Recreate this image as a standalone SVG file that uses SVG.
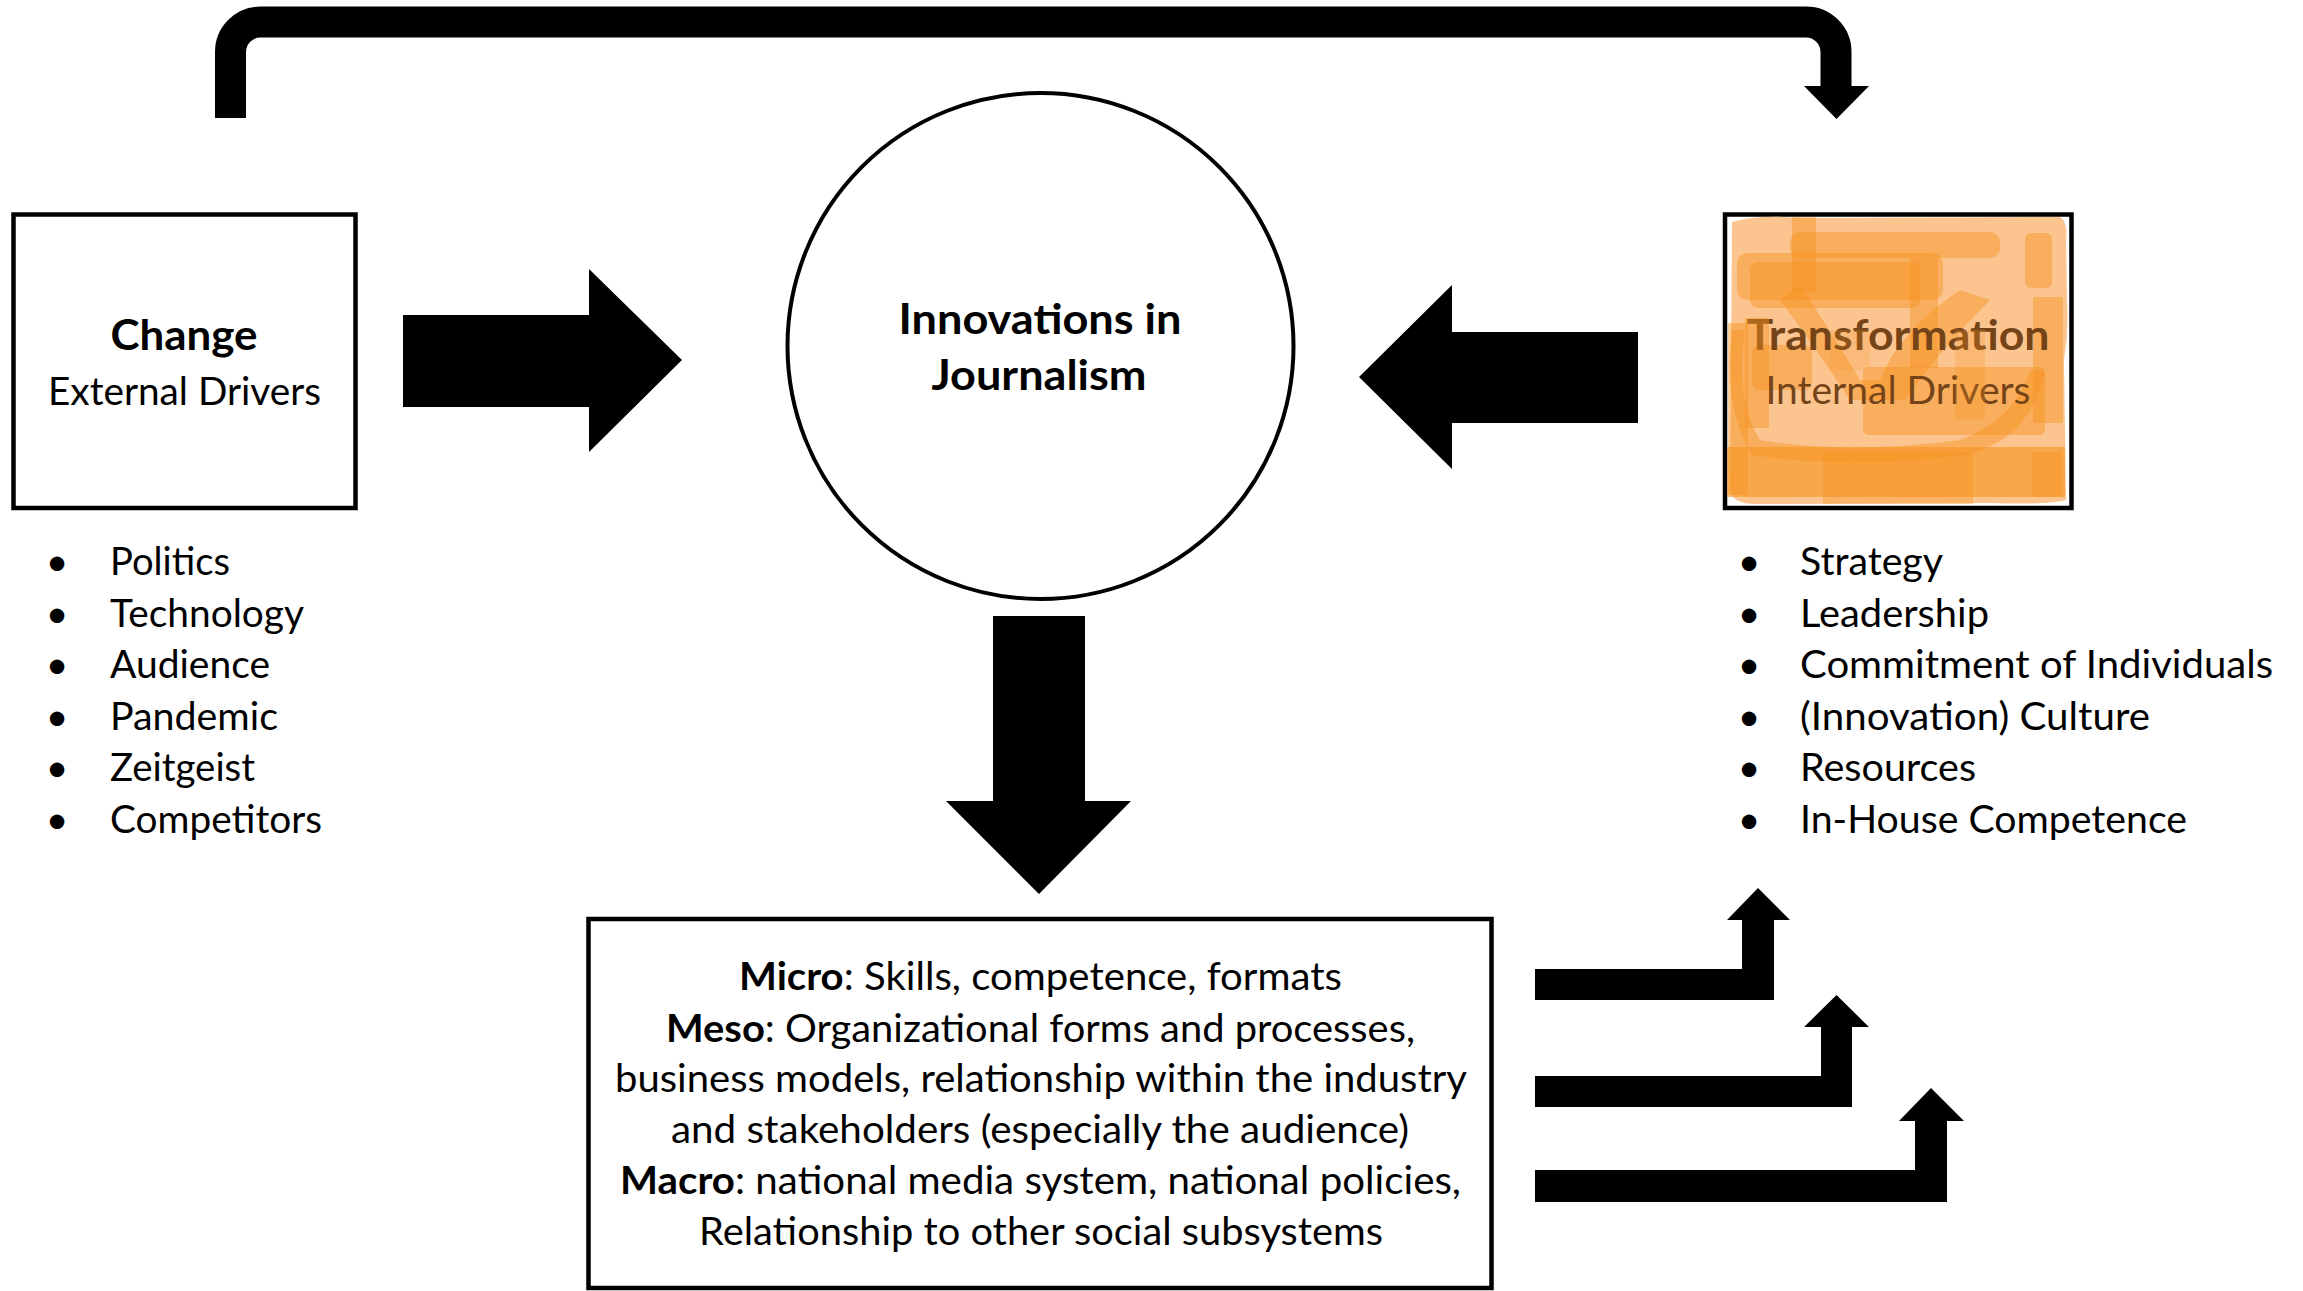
<svg xmlns="http://www.w3.org/2000/svg" width="2303" height="1291" viewBox="0 0 2303 1291">
<style>
.t{font-family:Lato,"Liberation Sans",sans-serif;font-size:39px;fill:#000}
.b{font-weight:bold;font-size:42px}
.box{fill:#fff;stroke:#000;stroke-width:4.5}
.arr{fill:#000}
.or{fill:#F7931E;opacity:0.45}
.brown{fill:#744418}
</style>
<rect width="2303" height="1291" fill="#fff"/>
<g id="connectors">
  <path d="M230.5,118 V52 A30,30 0 0 1 260.5,22 H1806 A30,30 0 0 1 1836,52 V87" fill="none" stroke="#000" stroke-width="31"/>
  <polygon class="arr" points="1804,86 1869,86 1836.5,119"/>
  <polygon class="arr" points="403,315 589,315 589,269 682,360 589,452 589,407 403,407"/>
  <polygon class="arr" points="1638,332 1452,332 1452,285 1359,377 1452,469 1452,423 1638,423"/>
  <polygon class="arr" points="993,616 1085,616 1085,801 1131,801 1039,894 946,801 993,801"/>
  <polygon class="arr" points="1535,969 1742,969 1742,920 1727,920 1758,888 1790,920 1774,920 1774,1000 1535,1000"/>
  <polygon class="arr" points="1535,1076 1821,1076 1821,1027 1804,1027 1836.5,995 1869,1027 1852,1027 1852,1107 1535,1107"/>
  <polygon class="arr" points="1535,1170 1915,1170 1915,1121 1899,1121 1931,1088 1964,1121 1947,1121 1947,1202 1535,1202"/>
</g>
<g id="change">
  <rect class="box" x="13.5" y="214.5" width="342" height="293.5"/>
  <text class="t b" x="184" y="350" text-anchor="middle" textLength="147" lengthAdjust="spacingAndGlyphs">Change</text>
  <text class="t" x="184.5" y="405" text-anchor="middle" textLength="273" lengthAdjust="spacingAndGlyphs">External Drivers</text>
</g>
<g id="external-list">
  <text class="t" x="57" y="575" text-anchor="middle">•</text>
  <text class="t" x="57" y="627" text-anchor="middle">•</text>
  <text class="t" x="57" y="678" text-anchor="middle">•</text>
  <text class="t" x="57" y="730" text-anchor="middle">•</text>
  <text class="t" x="57" y="781" text-anchor="middle">•</text>
  <text class="t" x="57" y="833" text-anchor="middle">•</text>
  <text class="t" x="110" y="575" textLength="120" lengthAdjust="spacingAndGlyphs">Politics</text>
  <text class="t" x="110" y="627" textLength="194" lengthAdjust="spacingAndGlyphs">Technology</text>
  <text class="t" x="110" y="678" textLength="160" lengthAdjust="spacingAndGlyphs">Audience</text>
  <text class="t" x="110" y="730" textLength="168" lengthAdjust="spacingAndGlyphs">Pandemic</text>
  <text class="t" x="110" y="781" textLength="145" lengthAdjust="spacingAndGlyphs">Zeitgeist</text>
  <text class="t" x="110" y="833" textLength="212" lengthAdjust="spacingAndGlyphs">Competitors</text>
</g>
<g id="innovations">
  <circle cx="1040.5" cy="346" r="253" fill="#fff" stroke="#000" stroke-width="4"/>
  <text class="t b" x="1040" y="334" text-anchor="middle" textLength="283" lengthAdjust="spacingAndGlyphs">Innovations in</text>
  <text class="t b" x="1039" y="390" text-anchor="middle" textLength="215" lengthAdjust="spacingAndGlyphs">Journalism</text>
</g>
<g id="transformation">
  <rect class="box" x="1725" y="214.5" width="346.5" height="293.5"/>
  <path d="M1732,222 Q1760,214 1800,218 L2060,217 Q2068,222 2066,240 L2067,300 Q2069,330 2064,360 L2066,500 Q2050,505 1990,503 L1760,504 Q1732,505 1730,490 Z" fill="#FCC590"/>
  <rect class="or" x="1737" y="253" width="206" height="47" rx="10"/>
  <rect class="or" x="1792" y="217" width="24" height="75"/>
  <rect class="or" x="1750" y="262" width="170" height="46" rx="8"/>
  <rect class="or" x="2025" y="233" width="27" height="55" rx="6"/>
  <rect class="or" x="2033" y="297" width="30" height="126"/>
  <rect class="or" x="1863" y="367" width="182" height="68" rx="6"/>
  <rect class="or" x="1728" y="323" width="20" height="172"/>
  <rect class="or" x="1790" y="232" width="210" height="26" rx="10" opacity="0.3"/>
  <path class="or" d="M1800,285 Q1830,330 1860,380 L1880,380 Q1900,330 1960,290 L1990,300 Q1940,350 1905,400 L1850,400 Q1810,340 1780,300 Z"/>
  <path class="or" d="M1745,330 Q1735,400 1760,440 Q1850,455 1960,440 Q2015,420 2030,370 L2045,372 Q2030,440 1965,455 Q1850,470 1752,455 Q1722,405 1732,330 Z"/>
  <rect class="or" x="1910" y="258" width="28" height="110"/>
  <rect class="or" x="1752" y="345" width="60" height="45" rx="8" opacity="0.3"/>
  <text class="t b brown" x="1898" y="350" text-anchor="middle" textLength="303" lengthAdjust="spacingAndGlyphs">Transformation</text>
  <text class="t brown" x="1898" y="404" text-anchor="middle" textLength="265" lengthAdjust="spacingAndGlyphs">Internal Drivers</text>
  <rect x="1727" y="447" width="338" height="50" fill="#F7931E" opacity="0.6"/>
  <rect x="1823" y="452" width="150" height="52" fill="#F7931E" opacity="0.35"/>
  <rect x="2032" y="452" width="30" height="45" fill="#F7931E" opacity="0.4"/>
  <rect class="or" x="1745" y="318" width="24" height="110" opacity="0.25"/>
  <rect x="1955" y="330" width="30" height="90" fill="#F7931E" opacity="0.25"/>
  <rect x="1830" y="330" width="40" height="40" fill="#F7931E" opacity="0.2"/>
</g>
<g id="internal-list">
  <text class="t" x="1749" y="575" text-anchor="middle">•</text>
  <text class="t" x="1749" y="627" text-anchor="middle">•</text>
  <text class="t" x="1749" y="678" text-anchor="middle">•</text>
  <text class="t" x="1749" y="730" text-anchor="middle">•</text>
  <text class="t" x="1749" y="781" text-anchor="middle">•</text>
  <text class="t" x="1749" y="833" text-anchor="middle">•</text>
  <text class="t" x="1800" y="575" textLength="143" lengthAdjust="spacingAndGlyphs">Strategy</text>
  <text class="t" x="1800" y="627" textLength="189" lengthAdjust="spacingAndGlyphs">Leadership</text>
  <text class="t" x="1800" y="678" textLength="473" lengthAdjust="spacingAndGlyphs">Commitment of Individuals</text>
  <text class="t" x="1800" y="730" textLength="350" lengthAdjust="spacingAndGlyphs">(Innovation) Culture</text>
  <text class="t" x="1800" y="781" textLength="176" lengthAdjust="spacingAndGlyphs">Resources</text>
  <text class="t" x="1800" y="833" textLength="387" lengthAdjust="spacingAndGlyphs">In-House Competence</text>
</g>
<g id="levels">
  <rect class="box" x="588.5" y="919" width="903" height="369"/>
  <text class="t" x="1040.5" y="990" text-anchor="middle" textLength="603" lengthAdjust="spacingAndGlyphs"><tspan font-weight="bold">Micro</tspan>: Skills, competence, formats</text>
  <text class="t" x="1040.5" y="1042" text-anchor="middle" textLength="749" lengthAdjust="spacingAndGlyphs"><tspan font-weight="bold">Meso</tspan>: Organizational forms and processes,</text>
  <text class="t" x="1041" y="1092" text-anchor="middle" textLength="852" lengthAdjust="spacingAndGlyphs">business models, relationship within the industry</text>
  <text class="t" x="1040" y="1143" text-anchor="middle" textLength="738" lengthAdjust="spacingAndGlyphs">and stakeholders (especially the audience)</text>
  <text class="t" x="1040.5" y="1194" text-anchor="middle" textLength="841" lengthAdjust="spacingAndGlyphs"><tspan font-weight="bold">Macro</tspan>: national media system, national policies,</text>
  <text class="t" x="1041" y="1245" text-anchor="middle" textLength="684" lengthAdjust="spacingAndGlyphs">Relationship to other social subsystems</text>
</g>
</svg>
